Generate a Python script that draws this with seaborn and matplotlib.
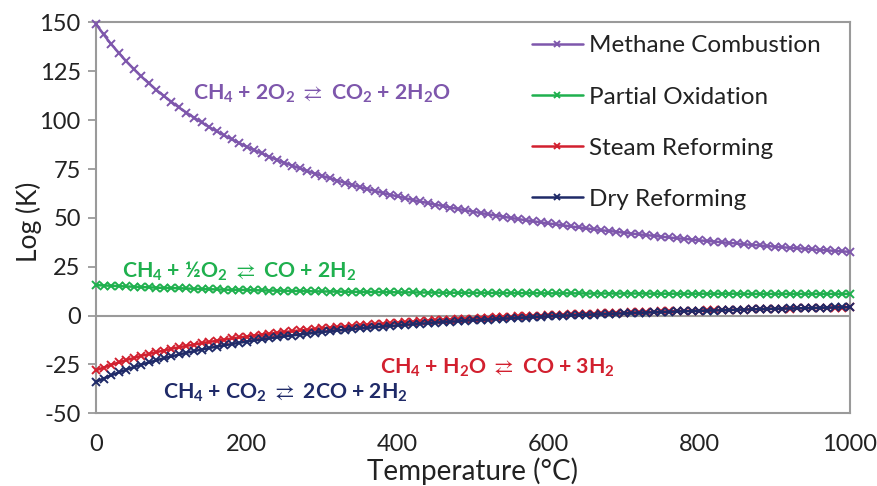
import numpy as np
import pandas as pd
import matplotlib
matplotlib.use("Agg")
import matplotlib.pyplot as plt
import seaborn as sns

temperature = list(range(0, 1001, 10))

methane_combustion = [
    149.2, 143.9, 139.0, 134.5, 130.2, 126.2, 122.4, 118.9, 115.5, 112.4,
    109.4, 106.5, 103.9, 101.3, 98.9, 96.5, 94.3, 92.2, 90.2, 88.3,
    86.4, 84.7, 83.0, 81.3, 79.7, 78.2, 76.8, 75.4, 74.0, 72.7,
    71.5, 70.3, 69.1, 68.0, 66.9, 65.8, 64.8, 63.8, 62.8, 61.9,
    61.0, 60.1, 59.2, 58.4, 57.6, 56.8, 56.1, 55.3, 54.6, 53.9,
    53.2, 52.5, 51.9, 51.2, 50.6, 50.0, 49.4, 48.8, 48.3, 47.7,
    47.2, 46.7, 46.2, 45.6, 45.2, 44.7, 44.2, 43.7, 43.3, 42.9,
    42.4, 42.0, 41.6, 41.2, 40.8, 40.4, 40.0, 39.6, 39.3, 38.9,
    38.5, 38.2, 37.9, 37.5, 37.2, 36.9, 36.5, 36.2, 35.9, 35.6,
    35.3, 35.0, 34.7, 34.5, 34.2, 33.9, 33.6, 33.4, 33.1, 32.9,
    32.6,
]

partial_oxidation = [
    15.6, 15.4, 15.3, 15.1, 14.9, 14.8, 14.6, 14.5, 14.3, 14.2,
    14.1, 14.0, 13.9, 13.7, 13.6, 13.5, 13.4, 13.3, 13.2, 13.2,
    13.1, 13.0, 12.9, 12.8, 12.8, 12.7, 12.6, 12.6, 12.5, 12.4,
    12.4, 12.3, 12.3, 12.2, 12.2, 12.1, 12.1, 12.1, 12.0, 12.0,
    11.9, 11.9, 11.9, 11.8, 11.8, 11.8, 11.7, 11.7, 11.7, 11.7,
    11.6, 11.6, 11.6, 11.6, 11.5, 11.5, 11.5, 11.5, 11.5, 11.4,
    11.4, 11.4, 11.4, 11.4, 11.4, 11.3, 11.3, 11.3, 11.3, 11.3,
    11.3, 11.3, 11.3, 11.3, 11.2, 11.2, 11.2, 11.2, 11.2, 11.2,
    11.2, 11.2, 11.2, 11.2, 11.2, 11.2, 11.1, 11.1, 11.1, 11.1,
    11.1, 11.1, 11.1, 11.1, 11.1, 11.1, 11.1, 11.1, 11.1, 11.1,
    11.1,
]

steam_reforming = [
    -28.0, -26.6, -25.2, -24.0, -22.8, -21.7, -20.6, -19.7, -18.7, -17.9,
    -17.0, -16.2, -15.5, -14.8, -14.1, -13.5, -12.9, -12.3, -11.7, -11.2,
    -10.7, -10.2, -9.7, -9.3, -8.8, -8.4, -8.0, -7.6, -7.3, -6.9,
    -6.5, -6.2, -5.9, -5.6, -5.3, -5.0, -4.7, -4.4, -4.2, -3.9,
    -3.6, -3.4, -3.2, -2.9, -2.7, -2.5, -2.3, -2.1, -1.9, -1.7,
    -1.5, -1.3, -1.1, -0.9, -0.8, -0.6, -0.4, -0.3, -0.1, 0.0,
    0.2, 0.3, 0.5, 0.6, 0.7, 0.9, 1.0, 1.1, 1.2, 1.4,
    1.5, 1.6, 1.7, 1.8, 1.9, 2.1, 2.2, 2.3, 2.4, 2.5,
    2.6, 2.7, 2.8, 2.8, 2.9, 3.0, 3.1, 3.2, 3.3, 3.4,
    3.5, 3.5, 3.6, 3.7, 3.8, 3.8, 3.9, 4.0, 4.1, 4.1,
    4.2,
]

dry_reforming = [
    -33.9, -32.2, -30.6, -29.1, -27.7, -26.4, -25.1, -24.0, -22.9, -21.8,
    -20.9, -19.9, -19.0, -18.2, -17.4, -16.6, -15.9, -15.2, -14.6, -13.9,
    -13.3, -12.7, -12.2, -11.6, -11.1, -10.6, -10.2, -9.7, -9.3, -8.8,
    -8.4, -8.0, -7.6, -7.3, -6.9, -6.5, -6.2, -5.9, -5.6, -5.3,
    -5.0, -4.7, -4.4, -4.1, -3.9, -3.6, -3.3, -3.1, -2.9, -2.6,
    -2.4, -2.2, -2.0, -1.8, -1.6, -1.4, -1.2, -1.0, -0.8, -0.6,
    -0.4, -0.3, -0.1, 0.1, 0.2, 0.4, 0.5, 0.7, 0.8, 1.0,
    1.1, 1.3, 1.4, 1.5, 1.7, 1.8, 1.9, 2.1, 2.2, 2.3,
    2.4, 2.5, 2.6, 2.7, 2.9, 3.0, 3.1, 3.2, 3.3, 3.4,
    3.5, 3.6, 3.7, 3.7, 3.8, 3.9, 4.0, 4.1, 4.2, 4.3,
    4.35,
]

series_names = ["Methane Combustion", "Partial Oxidation", "Steam Reforming", "Dry Reforming"]
series_values = [methane_combustion, partial_oxidation, steam_reforming, dry_reforming]
series_colors = ["#7E57AC", "#1FB04E", "#D2202F", "#1F2A68"]

y_ticks = [-50, -25, 0, 25, 50, 75, 100, 125, 150]
x_ticks = [0, 200, 400, 600, 800, 1000]

equations = [
    r"CH$_\mathbf{4}$ + 2O$_\mathbf{2}$ $\rightleftarrows$ CO$_\mathbf{2}$ + 2H$_\mathbf{2}$O",
    r"CH$_\mathbf{4}$ + ½O$_\mathbf{2}$ $\rightleftarrows$ CO + 2H$_\mathbf{2}$",
    r"CH$_\mathbf{4}$ + H$_\mathbf{2}$O $\rightleftarrows$ CO + 3H$_\mathbf{2}$",
    r"CH$_\mathbf{4}$ + CO$_\mathbf{2}$ $\rightleftarrows$ 2CO + 2H$_\mathbf{2}$",
]
equation_pos = [(128, 110.3), (35, 19.2), (377, -29.7), (89, -42.4)]

sns.set_style("white")
plt.rcParams["font.family"] = ["Lato", "DejaVu Sans"]
plt.rcParams["mathtext.fontset"] = "custom"
plt.rcParams["mathtext.rm"] = "Lato"
plt.rcParams["mathtext.bf"] = "Lato:bold"
plt.rcParams["mathtext.it"] = "Lato:italic"
plt.rcParams["mathtext.fallback"] = "stixsans"
plt.rcParams["axes.unicode_minus"] = False

fig = plt.figure(figsize=(8.78, 4.86), dpi=100)
ax = fig.add_axes([96 / 878, 1 - 413.3 / 486, (850 - 96) / 878, (413.3 - 22.5) / 486])

grey = "#9A9A9A"
ax.axhline(0, color=grey, lw=1.5, zorder=1)

for name, vals, col in zip(series_names, series_values, series_colors):
    d = pd.DataFrame({"Temperature": temperature, "logK": vals})
    sns.lineplot(data=d, x="Temperature", y="logK", color=col, label=name,
                 marker="x", markersize=6, markeredgewidth=1.4,
                 markeredgecolor=col, markerfacecolor=col, linewidth=1.8,
                 ax=ax, zorder=3, clip_on=False)

ax.set_xlim(0, 1000)
ax.set_ylim(-50, 150)
ax.set_xticks(x_ticks)
ax.set_yticks(y_ticks)
ax.tick_params(axis="y", which="both", direction="out", length=6, width=1.3,
               color=grey, labelsize=17, pad=5, left=True, labelcolor="#222222")
ax.tick_params(axis="x", length=0, labelsize=17, pad=15, labelcolor="#222222")
for s in ax.spines.values():
    s.set_color(grey)
    s.set_linewidth(1.5)

ax.set_xlabel("Temperature (°C)", fontsize=20, color="#222222")
ax.set_ylabel("Log (K)", fontsize=19, color="#222222")
ax.xaxis.set_label_coords(0.5, -0.112)
ax.yaxis.set_label_coords(-0.072, 0.49)

for txt, (x, y), c in zip(equations, equation_pos, series_colors):
    ax.text(x, y, txt, color=c, fontsize=15.3, fontweight="bold", ha="left", va="baseline")

handles, labels = ax.get_legend_handles_labels()
leg = ax.legend(handles, labels, loc="upper left", bbox_to_anchor=(0.565, 0.992),
                frameon=False, fontsize=17.5, handlelength=2.1, handletextpad=0.25,
                labelspacing=1.24, borderaxespad=0.0, borderpad=0.4)
for t in leg.get_texts():
    t.set_color("#222222")
for h in leg.legend_handles:
    h.set_markersize(5)

fig.savefig("out.png", dpi=100)
